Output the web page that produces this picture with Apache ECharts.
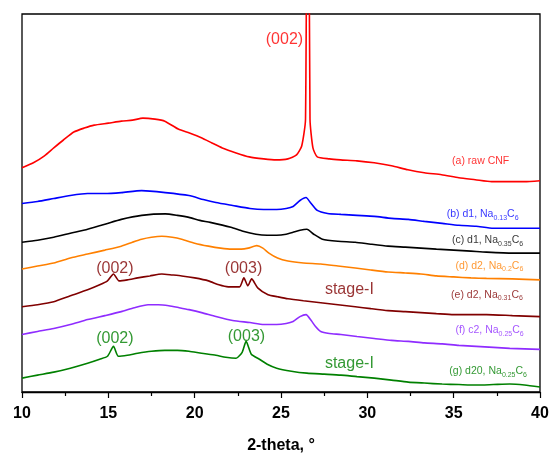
<!DOCTYPE html>
<html>
<head>
<meta charset="utf-8">
<script src="https://cdn.jsdelivr.net/npm/echarts@6/dist/echarts.min.js"></script>
<style>
  html, body { margin: 0; padding: 0; background: #fff; }
  #chart { width: 552px; height: 459px; }
</style>
</head>
<body>
<div id="chart"></div>
<script>
// x = 2-theta (deg), y = offset intensity (arb. units, stacked)
const rawCNF = [
  [10, 226], [10.66, 231], [11.3, 238], [11.84, 246], [12.4, 254], [13.0, 262], [13.6, 266], [14.18, 269], [15.0, 271],
  [15.75, 273], [16.4, 274], [17.0, 276], [17.7, 275], [18.27, 273], [19.05, 265], [19.7, 261], [20.42, 256],
  [21.0, 251], [21.6, 246], [22.4, 241], [23.16, 237], [24.0, 235], [24.72, 234], [25.4, 235], [25.9, 239],
  [26.2, 248], [26.42, 275], [26.55, 700], [26.68, 275], [26.85, 246], [27.1, 237], [27.8, 235], [28.44, 234],
  [29.4, 233], [30.4, 231], [31.4, 228], [32.35, 224], [33.3, 221], [34.3, 219], [35.3, 216], [36.25, 214],
  [37.2, 212], [38.2, 212], [39.1, 212], [40, 213]
]
const d1Na013 = [
  [10, 190], [10.9, 192], [11.84, 195], [12.8, 198], [13.8, 200], [14.8, 200], [15.75, 201], [16.93, 203],
  [18.3, 201], [19.67, 198], [20.5, 194], [21.23, 191], [22.2, 188], [23.2, 185], [24.0, 184], [24.75, 184],
  [25.3, 185], [25.7, 187], [26.1, 193], [26.45, 196], [26.7, 191], [27.1, 183], [27.7, 180], [28.47, 179],
  [29.4, 178], [30.4, 177], [31.4, 175], [32.37, 174], [33.3, 172], [34.33, 170], [35.3, 168], [36.3, 167],
  [37.3, 165], [38.25, 165], [39.1, 165], [40, 165]
]
const d1Na035 = [
  [10, 151], [10.9, 153], [11.84, 156], [12.8, 160], [13.8, 164], [14.8, 169], [15.75, 174], [16.93, 178],
  [18.3, 179.5], [19.0, 178], [19.67, 176], [20.3, 173], [20.9, 171], [22.1, 166], [22.8, 162], [23.55, 159],
  [24.2, 158], [24.75, 158], [25.3, 159], [25.7, 161], [26.1, 163], [26.5, 164], [26.9, 159], [27.4, 154],
  [28.3, 152], [29.3, 151], [30.2, 149], [31.2, 147], [32.2, 146], [33.1, 145], [34.0, 144], [35.0, 143],
  [36.0, 142], [36.9, 141], [38.4, 140], [40, 140]
]
const d2Na02 = [
  [10, 124], [10.9, 127], [11.84, 130], [12.8, 135], [13.8, 139], [14.8, 143], [15.75, 147], [16.4, 151],
  [16.93, 154], [17.5, 156], [18.1, 157], [18.7, 156], [19.25, 154], [20.0, 150], [20.8, 147], [21.5, 145],
  [22.15, 144], [22.7, 144], [23.1, 145], [23.6, 147.5], [23.95, 145], [24.3, 140], [24.8, 135], [25.4, 132],
  [26.3, 130], [27.3, 129], [28.3, 127], [29.3, 125], [30.2, 123], [31.2, 121], [32.2, 120], [33.1, 119],
  [34.0, 117], [35.0, 116], [36.0, 115], [36.9, 114.5], [38.4, 114], [40, 113]
]
const d2Na031 = [
  [10, 86], [10.9, 88], [11.84, 91], [12.8, 97], [13.8, 103], [14.5, 108], [14.95, 112], [15.3, 119],
  [15.62, 112], [16.1, 113], [16.7, 115], [17.4, 117], [18.1, 119], [18.7, 118], [19.25, 117], [20.0, 115],
  [20.8, 112], [21.4, 108], [21.95, 106], [22.6, 106], [22.85, 115], [23.08, 107], [23.3, 114], [23.65, 105],
  [24.25, 98], [24.8, 96], [25.4, 94], [26.3, 92], [27.3, 90], [28.3, 88], [29.3, 86], [30.2, 84], [31.2, 82],
  [32.2, 81], [33.1, 80], [34.0, 79], [35.0, 78], [36.0, 78], [36.9, 78], [38.4, 77], [40, 76]
]
const c2Na025 = [
  [10, 58], [10.9, 61], [11.84, 64], [12.8, 68], [13.8, 73], [14.8, 77], [15.75, 81], [16.5, 85], [17.3, 88],
  [17.9, 88], [18.5, 87], [19.1, 85], [19.67, 83], [20.4, 80], [21.23, 76], [22.2, 72], [23.2, 70], [24.0, 68],
  [24.75, 68], [25.3, 69], [25.7, 71], [26.1, 76], [26.45, 78], [26.75, 72], [27.0, 66], [27.3, 61], [27.8, 59],
  [28.47, 58], [29.4, 56], [30.4, 54], [31.4, 52], [32.37, 51], [33.3, 49.5], [34.33, 48.5], [35.3, 47],
  [36.3, 46], [37.3, 45], [38.25, 44], [39.1, 43.5], [40, 43]
]
const d20Na025 = [
  [10, 14], [10.9, 17], [11.84, 20], [12.8, 24], [13.8, 29], [14.5, 33], [14.95, 36], [15.3, 46], [15.58, 36],
  [16.1, 37], [16.7, 39], [17.5, 41], [18.27, 42], [19.0, 42], [19.67, 41], [20.4, 39], [21.23, 37], [21.8, 35],
  [22.4, 34], [22.75, 40], [22.98, 51], [23.28, 38], [23.75, 33], [24.2, 28], [24.75, 24], [25.6, 21], [26.5, 19],
  [27.5, 18], [28.47, 17], [29.4, 15.5], [30.4, 14], [31.4, 12], [32.37, 10], [33.3, 9], [34.33, 8], [35.3, 7.5],
  [36.3, 7], [37.3, 7.5], [38.25, 8], [39.1, 7], [40, 5]
]

const seriesNames = ['raw CNF', 'd1 Na0.13C6', 'd1 Na0.35C6', 'd2 Na0.2C6', 'd2 Na0.31C6', 'c2 Na0.25C6', 'd20 Na0.25C6']
const seriesData = [rawCNF, d1Na013, d1Na035, d2Na02, d2Na031, c2Na025, d20Na025]
const colors = ['#ff0000', '#0000ff', '#000000', '#ff8000', '#800000', '#8f2cff', '#008000']

// sample labels on the right: [x, y, text]
const sampleLabels = [
  [34.91, 233, '(a) raw CNF'],
  [34.6, 179, '(b) d1, Na{s|0.13}C{s|6}'],
  [34.9, 153, '(c) d1, Na{s|0.35}C{s|6}'],
  [35.1, 127, '(d) d2, Na{s|0.2}C{s|6}'],
  [34.85, 98, '(e) d2, Na{s|0.31}C{s|6}'],
  [35.1, 62, '(f) c2, Na{s|0.25}C{s|6}'],
  [34.75, 21, '(g) d20, Na{s|0.25}C{s|6}']
]
// peak labels: [x, y, text, series index]
const peakLabels = [
  [25.2, 355, '(002)', 0],
  [15.38, 124, '(002)', 4],
  [22.83, 124, '(003)', 4],
  [28.96, 103, 'stage-I', 4],
  [15.38, 54, '(002)', 6],
  [23.0, 56, '(003)', 6],
  [28.96, 29, 'stage-I', 6]
]

const fontFamily = 'Liberation Sans, Arial, sans-serif'

const chart = echarts.init(document.getElementById('chart'))

const lineSeries = seriesData.map((data, i) => ({
  name: seriesNames[i],
  type: 'line',
  data: data,
  showSymbol: false,
  symbol: 'none',
  smooth: 0.2,
  clip: true,
  lineStyle: { color: colors[i], width: 1.6 },
  itemStyle: { color: colors[i] },
  animation: false
}))

const annoSeries = {
  type: 'scatter',
  symbolSize: 0,
  silent: true,
  animation: false,
  clip: false,
  data: [
    ...sampleLabels.map((l, i) => ({
      value: [l[0], l[1]],
      label: {
        show: true,
        position: 'inside',
        align: 'left',
        formatter: l[2],
        color: colors[i],
        fontFamily: fontFamily,
        fontSize: 10.5,
        rich: {
          s: { fontSize: 7, color: colors[i], fontFamily: fontFamily, verticalAlign: 'bottom', padding: [7, 0, 0, 0] }
        }
      }
    })),
    ...peakLabels.map(l => ({
      value: [l[0], l[1]],
      label: {
        show: true,
        position: 'inside',
        formatter: l[2],
        color: colors[l[3]],
        fontFamily: fontFamily,
        fontSize: 16
      }
    }))
  ]
}

chart.setOption({
  backgroundColor: '#fff',
  animation: false,
  grid: {
    left: 22,
    right: 12,
    top: 14,
    bottom: 64,
    show: true,
    borderColor: '#000',
    borderWidth: 1.3
  },
  xAxis: {
    type: 'value',
    min: 10,
    max: 40,
    interval: 5,
    name: '2-theta, °',
    nameLocation: 'middle',
    nameGap: 46,
    nameTextStyle: { fontFamily: fontFamily, fontWeight: 'bold', fontSize: 16, color: '#000' },
    axisLine: { lineStyle: { color: '#000', width: 1.3 } },
    axisTick: { inside: false, length: 6, lineStyle: { color: '#000', width: 1.2 } },
    minorTick: { show: true, splitNumber: 2, length: 4, lineStyle: { color: '#000', width: 1.2 } },
    splitLine: { show: false },
    axisLabel: { fontFamily: fontFamily, fontWeight: 'bold', fontSize: 16, color: '#000', margin: 14 }
  },
  yAxis: {
    type: 'value',
    min: 0,
    max: 381,
    show: false,
    splitLine: { show: false }
  },
  series: [...lineSeries, annoSeries]
})
</script>
</body>
</html>
